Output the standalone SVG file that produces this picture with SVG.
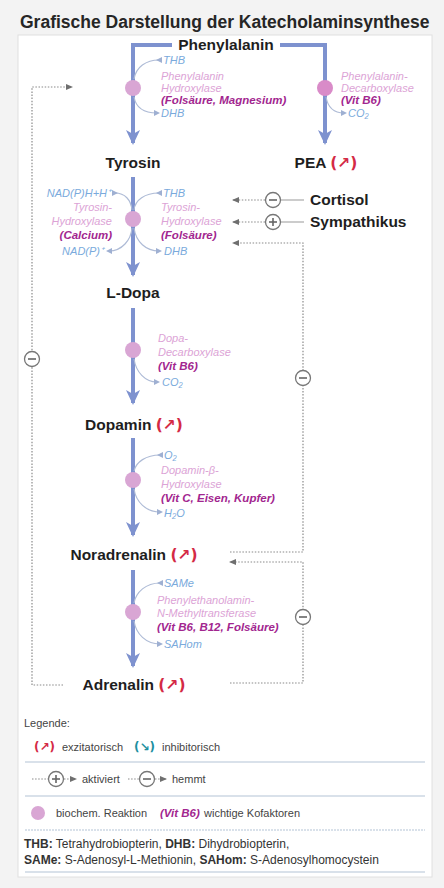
<svg xmlns="http://www.w3.org/2000/svg" width="444" height="888" viewBox="0 0 444 888">
<style>
text{font-family:"Liberation Sans",Arial,sans-serif}
.title{font-weight:bold;font-size:17.5px;fill:#262626}
.node{font-weight:bold;font-size:15.5px;fill:#1e1e1e}
.exc{fill:#d42a45;font-family:"DejaVu Sans","Liberation Sans",sans-serif;font-weight:bold}
.inh{fill:#1d8fa0;font-family:"DejaVu Sans","Liberation Sans",sans-serif;font-weight:bold}
.enz{font-style:italic;font-size:11px;fill:#dca3d6}
.cof{font-style:italic;font-weight:bold;font-size:11.5px;fill:#a2268f}
.mol{font-style:italic;font-size:11px;fill:#7aaadc}
.main{stroke:#7e92cf;stroke-width:4;fill:none}
.cf{stroke:#aebbd6;stroke-width:1.2;fill:none}
.dot{stroke:#8a8a8a;stroke-width:1.2;stroke-dasharray:1.5 1.6;fill:none}
.rx{fill:#d9a6d4}
.sym{fill:#fff;stroke:#777;stroke-width:1.3}
.bar{stroke:#666;stroke-width:1.6}
.solid{stroke:#999;stroke-width:1}
.leg{font-size:11px;fill:#444}
.sep{stroke:#cdd7e3;stroke-width:1.5}
.foot{font-size:12px;fill:#333}
</style>
<defs>
<marker id="mainArrow" markerUnits="userSpaceOnUse" markerWidth="16" markerHeight="16" viewBox="0 0 16 16" refX="13" refY="8" orient="auto">
<path d="M0,1 L15,8 L0,15 L4,8 z" fill="#7e92cf"/>
</marker>
<marker id="cfArrow" markerUnits="userSpaceOnUse" markerWidth="6" markerHeight="6" viewBox="0 0 6 6" refX="3" refY="3" orient="auto">
<path d="M0,0 L6,3 L0,6 z" fill="#9fb0d2"/>
</marker>
<marker id="dotArrow" markerUnits="userSpaceOnUse" markerWidth="7" markerHeight="7" viewBox="0 0 7 7" refX="6" refY="3.5" orient="auto">
<path d="M0,0.5 L7,3.5 L0,6.5 z" fill="#6f6f6f"/>
</marker>
<g id="minusSym"><circle class="sym" r="7.5"/><line class="bar" x1="-4" y1="0" x2="4" y2="0"/></g>
<g id="plusSym"><circle class="sym" r="7.5"/><line class="bar" x1="-4" y1="0" x2="4" y2="0"/><line class="bar" x1="0" y1="-4" x2="0" y2="4"/></g>
</defs>

<rect x="0" y="0" width="444" height="888" fill="#f3f3f3"/>
<rect x="18" y="35" width="414" height="842" fill="#ffffff" stroke="#e0e0e0"/>
<text class="title" x="20" y="28">Grafische Darstellung der Katecholaminsynthese</text>

<g id="connectors">
<path class="main" d="M172,45 H133 V143" marker-end="url(#mainArrow)"/>
<path class="main" d="M280,45 H325 V143" marker-end="url(#mainArrow)"/>
<path class="main" d="M133,177 V275" marker-end="url(#mainArrow)"/>
<path class="main" d="M133,308 V403" marker-end="url(#mainArrow)"/>
<path class="main" d="M133,438 V535" marker-end="url(#mainArrow)"/>
<path class="main" d="M133,570 V666" marker-end="url(#mainArrow)"/>
<path class="dot" d="M63,685 H32 V87 H72" marker-end="url(#dotArrow)"/>
<path class="dot" d="M230,552 H303 V243 H233" marker-end="url(#dotArrow)"/>
<path class="dot" d="M230,683 H303 V562 H230" marker-end="url(#dotArrow)"/>
<path class="dot" d="M265,200 H233" marker-end="url(#dotArrow)"/>
<path class="dot" d="M265,222 H233" marker-end="url(#dotArrow)"/>
<line class="solid" x1="281" y1="200" x2="304" y2="200"/>
<line class="solid" x1="281" y1="222" x2="304" y2="222"/>
<use href="#minusSym" x="32" y="359"/>
<use href="#minusSym" x="303" y="378"/>
<use href="#minusSym" x="303" y="617"/>
<use href="#minusSym" x="273" y="200"/>
<use href="#plusSym" x="273" y="222"/>
</g>

<g id="node-phenylalanin"><text class="node" x="226" y="50" text-anchor="middle">Phenylalanin</text></g>
<g id="node-tyrosin"><text class="node" x="133" y="168" text-anchor="middle">Tyrosin</text></g>
<g id="node-pea"><text class="node" x="326" y="168" text-anchor="middle">PEA <tspan class="exc">(↗)</tspan></text></g>
<g id="node-ldopa"><text class="node" x="133" y="298" text-anchor="middle">L-Dopa</text></g>
<g id="node-dopamin"><text class="node" x="134" y="430" text-anchor="middle">Dopamin <tspan class="exc">(↗)</tspan></text></g>
<g id="node-noradrenalin"><text class="node" x="134" y="560" text-anchor="middle">Noradrenalin <tspan class="exc">(↗)</tspan></text></g>
<g id="node-adrenalin"><text class="node" x="134" y="690" text-anchor="middle">Adrenalin <tspan class="exc">(↗)</tspan></text></g>
<g id="node-cortisol"><text class="node" x="310" y="205">Cortisol</text></g>
<g id="node-sympathikus"><text class="node" x="310" y="227">Sympathikus</text></g>

<g id="enzyme-pah">
<circle class="rx" cx="133" cy="88" r="8"/>
<path class="cf" d="M159,60 C146,60 136,67 134,79" marker-start="url(#cfArrow)"/>
<path class="cf" d="M134,97 C136,108 145,113 157,113" marker-end="url(#cfArrow)"/>
<text class="mol" x="163" y="64">THB</text>
<text class="enz" x="161" y="80">Phenylalanin</text>
<text class="enz" x="161" y="92">Hydroxylase</text>
<text class="cof" x="161" y="104">(Folsäure, Magnesium)</text>
<text class="mol" x="161" y="117">DHB</text>
</g>

<g id="enzyme-paad">
<circle cx="325" cy="88" r="8" fill="#d98bc8"/>
<path class="cf" d="M326,97 C328,108 335,113 344,113" marker-end="url(#cfArrow)"/>
<text class="enz" x="341" y="80">Phenylalanin-</text>
<text class="enz" x="341" y="92">Decarboxylase</text>
<text class="cof" x="341" y="104">(Vit B6)</text>
<text class="mol" x="348" y="117">CO₂</text>
</g>

<g id="enzyme-th">
<circle class="rx" cx="133" cy="219" r="8"/>
<path class="cf" d="M115,193 C125,193 131,200 132,210" marker-start="url(#cfArrow)"/>
<path class="cf" d="M132,228 C131,240 122,251 109,251" marker-end="url(#cfArrow)"/>
<path class="cf" d="M159,193 C145,193 135,200 134,210" marker-start="url(#cfArrow)"/>
<path class="cf" d="M134,228 C136,242 146,251 159,251" marker-end="url(#cfArrow)"/>
<text class="mol" x="111" y="197" text-anchor="end">NAD(P)H+H⁺</text>
<text class="enz" x="112" y="211" text-anchor="end">Tyrosin-</text>
<text class="enz" x="112" y="225" text-anchor="end">Hydroxylase</text>
<text class="cof" x="112" y="239" text-anchor="end">(Calcium)</text>
<text class="mol" x="104" y="255" text-anchor="end">NAD(P)⁺</text>
<text class="mol" x="163" y="197">THB</text>
<text class="enz" x="161" y="211">Tyrosin-</text>
<text class="enz" x="161" y="225">Hydroxylase</text>
<text class="cof" x="161" y="239">(Folsäure)</text>
<text class="mol" x="164" y="255">DHB</text>
</g>

<g id="enzyme-ddc">
<circle class="rx" cx="133" cy="350" r="8"/>
<path class="cf" d="M134,359 C136,372 145,382 157,382" marker-end="url(#cfArrow)"/>
<text class="enz" x="158" y="342">Dopa-</text>
<text class="enz" x="158" y="356">Decarboxylase</text>
<text class="cof" x="158" y="370">(Vit B6)</text>
<text class="mol" x="162" y="386">CO₂</text>
</g>

<g id="enzyme-dbh">
<circle class="rx" cx="133" cy="480" r="8"/>
<path class="cf" d="M160,455 C146,455 136,462 134,471" marker-start="url(#cfArrow)"/>
<path class="cf" d="M134,489 C136,502 146,512 160,512" marker-end="url(#cfArrow)"/>
<text class="mol" x="164" y="459">O₂</text>
<text class="enz" x="161" y="474">Dopamin-β-</text>
<text class="enz" x="161" y="488">Hydroxylase</text>
<text class="cof" x="161" y="502">(Vit C, Eisen, Kupfer)</text>
<text class="mol" x="164" y="517">H₂O</text>
</g>

<g id="enzyme-pnmt">
<circle class="rx" cx="133" cy="612" r="8"/>
<path class="cf" d="M160,583 C146,583 136,592 134,603" marker-start="url(#cfArrow)"/>
<path class="cf" d="M134,621 C136,634 146,644 160,644" marker-end="url(#cfArrow)"/>
<text class="mol" x="164" y="587">SAMe</text>
<text class="enz" x="157" y="604">Phenylethanolamin-</text>
<text class="enz" x="157" y="617">N-Methyltransferase</text>
<text class="cof" x="157" y="631">(Vit B6, B12, Folsäure)</text>
<text class="mol" x="164" y="648">SAHom</text>
</g>

<g id="legend">
<text class="leg" x="24" y="727">Legende:</text>
<text class="leg" x="34" y="751"><tspan class="exc" font-size="12">(↗)</tspan></text>
<text class="leg" x="62" y="751">exzitatorisch</text>
<text class="leg" x="134" y="751"><tspan class="inh" font-size="12">(↘)</tspan></text>
<text class="leg" x="162" y="751">inhibitorisch</text>
<line class="sep" x1="25" y1="762" x2="425" y2="762"/>
<path class="dot" d="M32,779 H48"/>
<use href="#plusSym" x="56" y="779"/>
<path class="dot" d="M64,779 H76" marker-end="url(#dotArrow)"/>
<text class="leg" x="82" y="783">aktiviert</text>
<path class="dot" d="M128,779 H139"/>
<use href="#minusSym" x="147" y="779"/>
<path class="dot" d="M155,779 H166" marker-end="url(#dotArrow)"/>
<text class="leg" x="172" y="783">hemmt</text>
<line class="sep" x1="25" y1="796" x2="425" y2="796"/>
<circle class="rx" cx="38" cy="813" r="7"/>
<text class="leg" x="56" y="817">biochem. Reaktion</text>
<text class="cof" x="160" y="817" font-size="10.5">(Vit B6)</text>
<text class="leg" x="204" y="817">wichtige Kofaktoren</text>
<line class="sep" x1="25" y1="830" x2="425" y2="830" stroke-dasharray="2 1"/>
<text class="foot" x="24" y="848"><tspan font-weight="bold">THB:</tspan> Tetrahydrobiopterin, <tspan font-weight="bold">DHB:</tspan> Dihydrobiopterin,</text>
<text class="foot" x="24" y="864"><tspan font-weight="bold">SAMe:</tspan> S-Adenosyl-L-Methionin, <tspan font-weight="bold">SAHom:</tspan> S-Adenosylhomocystein</text>
<line class="sep" x1="25" y1="872" x2="425" y2="872"/>
</g>
</svg>
